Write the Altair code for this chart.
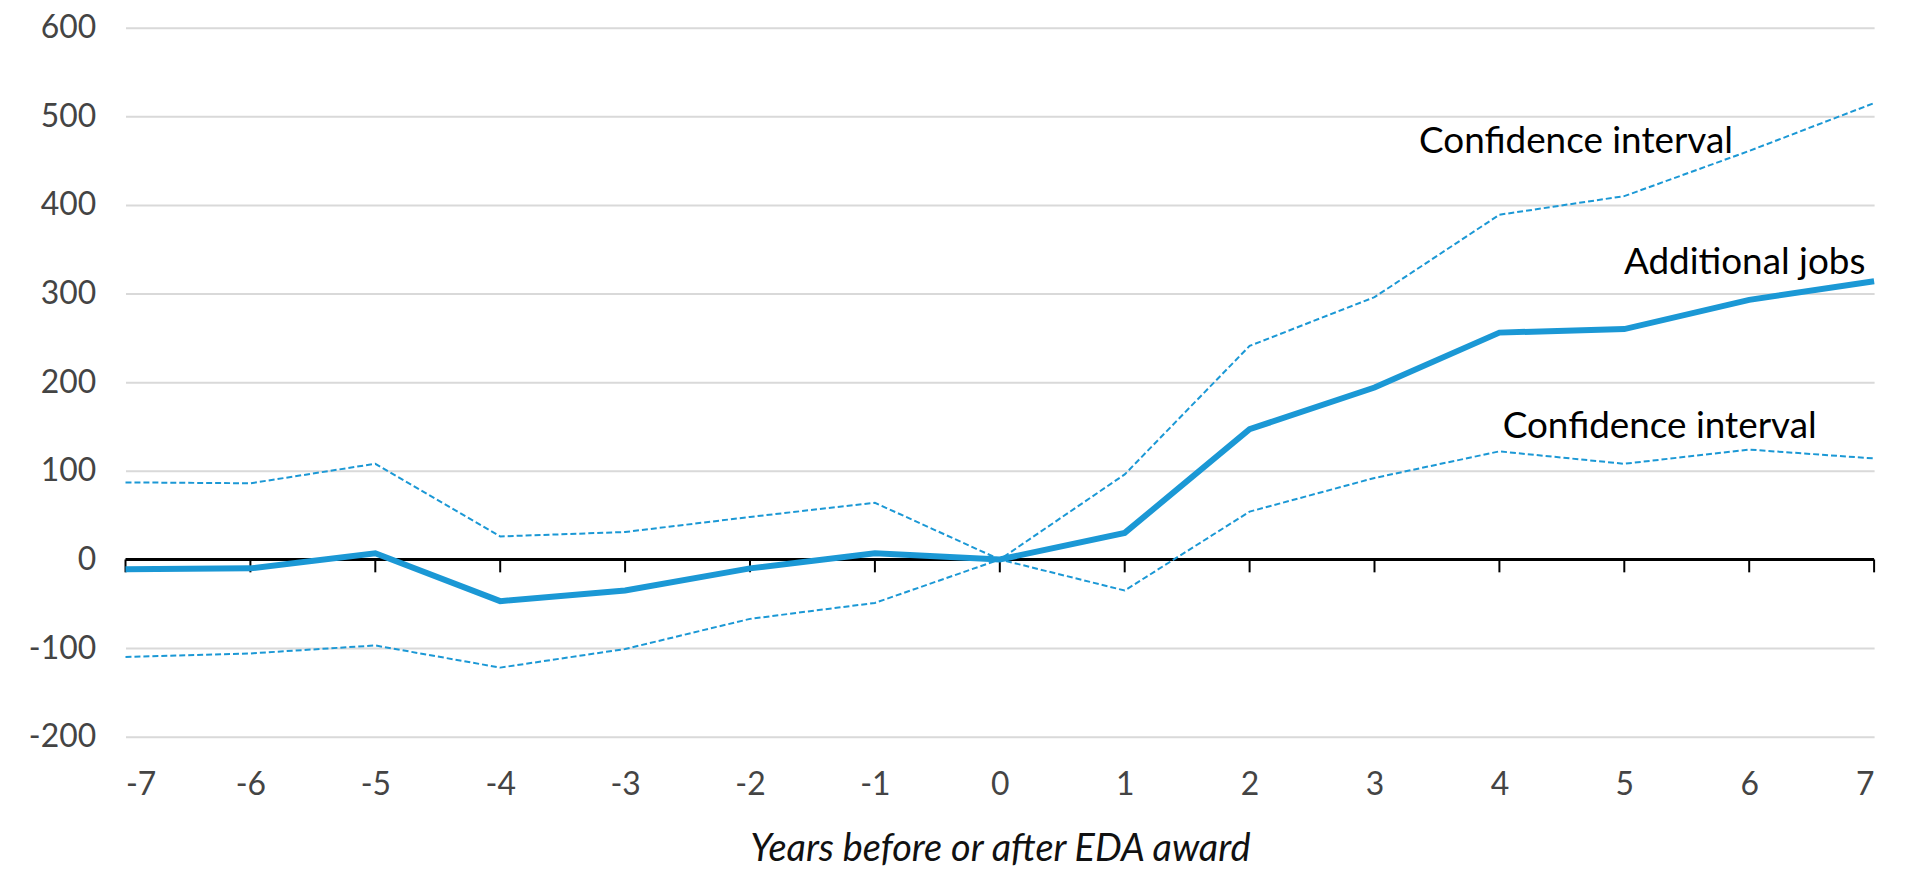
import altair as alt
import pandas as pd

years = list(range(-7, 8))
jobs = [-11, -10, 7, -47, -35, -10, 7, 0, 30, 147, 194, 256, 260, 293, 314]
upper = [87, 86, 108, 26, 31, 48, 64, 0, 96, 241, 296, 389, 410, 461, 515]
lower = [-110, -106, -97, -122, -101, -67, -49, 0, -35, 54, 92, 122, 108, 124, 114]

y_ticks = [-200, -100, 0, 100, 200, 300, 400, 500, 600]

labels = ["Confidence interval", "Additional jobs", "Confidence interval"]
label_x = [5.87, 6.93, 6.54]
label_y = [471, 335, 149]

BLUE = "#1b98d5"
FONT = "Lato"

df = pd.DataFrame({"year": years, "jobs": jobs, "upper": upper, "lower": lower})
ann = pd.DataFrame({"label": labels, "x": label_x, "y": label_y})
ticks_df = pd.DataFrame({"year": years, "y0": [0] * len(years), "y1": [-14.5] * len(years)})
zero_df = pd.DataFrame({"x0": [-7], "x1": [7], "y": [0]})

xscale = alt.Scale(domain=[-7, 7], nice=False, zero=False)
yscale = alt.Scale(domain=[-200, 600], nice=False)

xaxis = alt.Axis(
    values=years, title="Years before or after EDA award", grid=False, domain=False, ticks=False,
    labelFont=FONT, labelFontSize=32, labelColor="#444444", labelPadding=33,
    titleFont=FONT, titleFontSize=38, titleFontStyle="italic", titleFontWeight="normal",
    titleColor="#111111", titlePadding=30, labelExpr="'' + datum.value",
)
yaxis = alt.Axis(
    values=y_ticks, title=None, grid=True, gridColor="#d9d9d9", gridWidth=2, domain=False, ticks=False,
    labelFont=FONT, labelFontSize=32, labelColor="#444444", labelPadding=30,
    labelExpr="'' + datum.value",
)

base = alt.Chart(df)

grid_layer = base.mark_line(opacity=0).encode(
    x=alt.X("year:Q", scale=xscale, axis=xaxis),
    y=alt.Y("jobs:Q", scale=yscale, axis=yaxis),
)

zero_line = alt.Chart(zero_df).mark_rule(color="black", strokeWidth=3).encode(
    x="x0:Q", x2="x1:Q", y="y:Q"
)
tick_marks = alt.Chart(ticks_df).mark_rule(color="black", strokeWidth=2).encode(
    x="year:Q", y="y0:Q", y2="y1:Q"
)

upper_line = base.mark_line(color=BLUE, strokeWidth=2, strokeDash=[6, 3]).encode(
    x="year:Q", y="upper:Q"
)
lower_line = base.mark_line(color=BLUE, strokeWidth=2, strokeDash=[6, 3]).encode(
    x="year:Q", y="lower:Q"
)
main_line = base.mark_line(color=BLUE, strokeWidth=6).encode(
    x="year:Q", y="jobs:Q"
)

text = alt.Chart(ann).mark_text(
    font=FONT, fontSize=37, color="black", align="right", baseline="middle"
).encode(x="x:Q", y="y:Q", text="label:N")

chart = alt.layer(
    grid_layer, zero_line, tick_marks, upper_line, lower_line, main_line, text
).properties(
    width=1756, height=712,
    autosize=alt.AutoSizeParams(type="none"),
    padding={"left": 118, "top": 18, "right": 24, "bottom": 132},
).configure_view(stroke=None)

chart.save("out.html", embed_options={"renderer": "svg", "actions": False})
